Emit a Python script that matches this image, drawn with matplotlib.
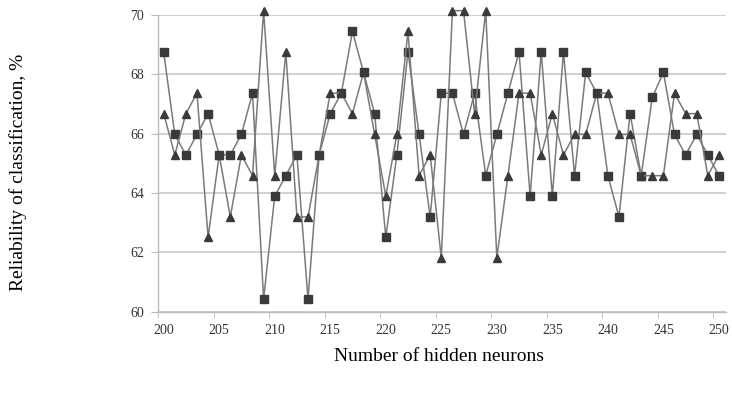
import matplotlib.pyplot as plt
import numpy as np

neurons = list(range(200, 251))

# series with square markers
squares = [68.75, 65.97, 65.28, 65.97, 66.67, 65.28, 65.28, 65.97, 67.36, 60.42,
           63.89, 64.58, 65.28, 60.42, 65.28, 66.67, 67.36, 69.44, 68.06, 66.67,
           62.50, 65.28, 68.75, 65.97, 63.19, 67.36, 67.36, 65.97, 67.36, 64.58,
           65.97, 67.36, 68.75, 63.89, 68.75, 63.89, 68.75, 64.58, 68.06, 67.36,
           64.58, 63.19, 66.67, 64.58, 67.22, 68.06, 65.97, 65.28, 65.97, 65.28,
           64.58]

# series with triangle markers
triangles = [66.67, 65.28, 66.67, 67.36, 62.50, 65.28, 63.19, 65.28, 64.58, 70.14,
             64.58, 68.75, 63.19, 63.19, 65.28, 67.36, 67.36, 66.67, 68.06, 65.97,
             63.89, 65.97, 69.44, 64.58, 65.28, 61.81, 70.14, 70.14, 66.67, 70.14,
             61.81, 64.58, 67.36, 67.36, 65.28, 66.67, 65.28, 65.97, 65.97, 67.36,
             67.36, 65.97, 65.97, 64.58, 64.58, 64.58, 67.36, 66.67, 66.67, 64.58,
             65.28]

xtick_labels = [200, 205, 210, 215, 220, 225, 230, 235, 240, 245, 250]
ytick_labels = [60, 62, 64, 66, 68, 70]

plt.rcParams['font.family'] = ['Liberation Serif', 'DejaVu Serif']

fig = plt.figure(figsize=(7.32, 4.01), dpi=100)
ax = fig.add_axes([0.216, 0.223, 0.776, 0.74])

ax.plot(neurons, squares, color='#7a7a7a', lw=1.1, marker='s', ms=5.5,
        mfc='#3a3a3a', mec='#3a3a3a', zorder=3, clip_on=False)
ax.plot(neurons, triangles, color='#7a7a7a', lw=1.1, marker='^', ms=6,
        mfc='#3a3a3a', mec='#3a3a3a', zorder=3, clip_on=False)

ax.set_xlim(199.5, 250.65)
ax.set_ylim(60, 70)
ax.set_yticks(ytick_labels)
ax.yaxis.grid(True, color='#c8c8c8', lw=1.2)
ax.set_axisbelow(True)

# labels centred on categories, tick marks between them
ax.set_xticks(xtick_labels)
ax.set_xticks([x - 0.5 for x in xtick_labels], minor=True)
ax.tick_params(axis='x', which='major', length=0, pad=9, labelsize=10, colors='#333333')
ax.tick_params(axis='x', which='minor', length=4, color='#bbbbbb')
ax.tick_params(axis='y', length=5, color='#bbbbbb', labelsize=10, labelcolor='#333333', pad=5)

for s in ['top', 'right']:
    ax.spines[s].set_visible(False)
for s in ['left', 'bottom']:
    ax.spines[s].set_color('#bbbbbb')
    ax.spines[s].set_linewidth(1.0)

fig.text(0.025, 0.57, 'Reliability of classification, %', rotation=90,
         ha='center', va='center', fontsize=14)
fig.text(0.6, 0.11, 'Number of hidden neurons', ha='center', va='center', fontsize=14)

fig.savefig('out.png', dpi=100)
